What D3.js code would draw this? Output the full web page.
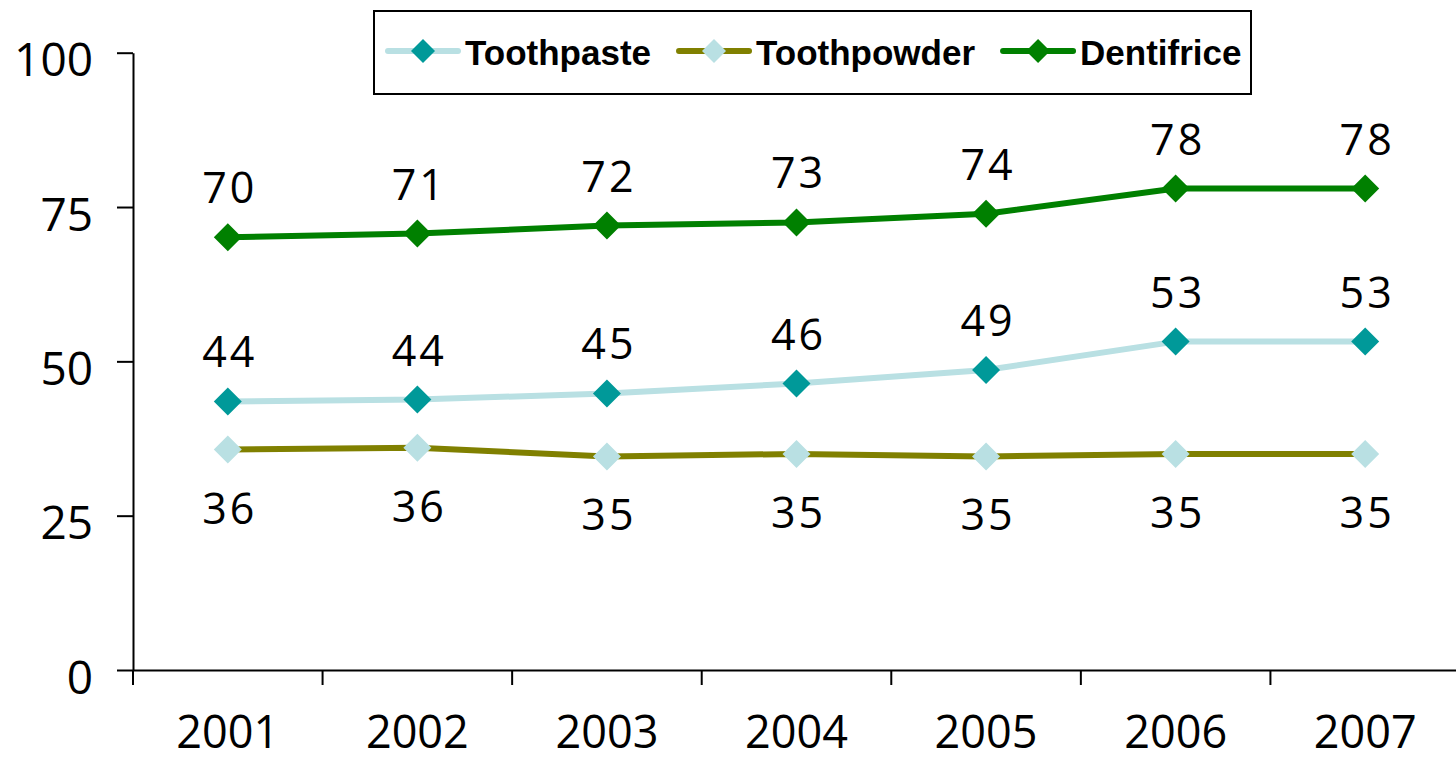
<!DOCTYPE html>
<html>
<head>
<meta charset="utf-8">
<script src="https://cdn.jsdelivr.net/npm/d3@7"></script>
<style>
  html, body { margin: 0; padding: 0; background: #fff; }
  svg { display: block; }
</style>
</head>
<body>
<svg id="chart" width="1456" height="762"></svg>
<script>
// Years on the category axis
const categories = ["2001", "2002", "2003", "2004", "2005", "2006", "2007"];

// Share of households using each product (%)
const toothpaste  = [43.5, 43.8, 44.8, 46.4, 48.6, 53.2, 53.2];
const toothpowder = [35.7, 36.0, 34.6, 35.0, 34.6, 35.0, 35.0];
const dentifrice  = [70.1, 70.7, 72.0, 72.5, 73.9, 78.0, 78.0];

// Value axis ticks
const yTicks = [0, 25, 50, 75, 100];

const series = [
  { name: "Toothpaste",  values: toothpaste,  line: "#b9e0e3", marker: "#009999", above: true },
  { name: "Toothpowder", values: toothpowder, line: "#808000", marker: "#b9e0e3", above: false },
  { name: "Dentifrice",  values: dentifrice,  line: "#008000", marker: "#008000", above: true }
];

const svg = d3.select("#chart");
const numFont = "'Open Sans', 'DejaVu Sans', sans-serif";
const legendFont = "'Liberation Sans', Arial, sans-serif";

const x = d3.scaleBand().domain(categories).range([133, 1460]).padding(0);
const y = d3.scaleLinear().domain([0, 100]).range([670, 52.7]);

// Value axis
const yAxis = svg.append("g")
  .attr("transform", `translate(${x.range()[0]},0)`)
  .call(d3.axisLeft(y).tickValues(yTicks).tickSize(16).tickSizeOuter(0).tickPadding(24));
yAxis.select(".domain").attr("stroke", "#000").attr("stroke-width", 2);
yAxis.selectAll(".tick line").attr("stroke", "#000").attr("stroke-width", 2);
yAxis.selectAll(".tick text")
  .attr("font-family", numFont).attr("font-size", 46).attr("fill", "#000")
  .attr("dy", null).attr("y", 23);

// Category axis: labels centred in each band, ticks on band boundaries
const xAxis = svg.append("g")
  .attr("transform", `translate(0,${y(0)})`)
  .call(d3.axisBottom(x).tickSize(0).tickSizeOuter(0).tickPadding(0));
xAxis.select(".domain").attr("stroke", "#000").attr("stroke-width", 2);
xAxis.selectAll(".tick text")
  .attr("font-family", numFont).attr("font-size", 45).attr("fill", "#000")
  .attr("dy", null).attr("y", 78);

const boundaries = categories.map(c => x(c)).concat([x.range()[1]]);
xAxis.selectAll(".band-tick").data(boundaries).join("line")
  .attr("class", "band-tick")
  .attr("x1", d => d).attr("x2", d => d)
  .attr("y1", 0).attr("y2", 15)
  .attr("stroke", "#000").attr("stroke-width", 2);

// Lines, markers and value labels
const cx = c => x(c) + x.bandwidth() / 2;
const lineGen = d3.line().x(d => cx(d.cat)).y(d => y(d.v));
const diamond = d3.symbol().type(d3.symbolSquare).size(392);

series.forEach(s => {
  const pts = categories.map((c, i) => ({ cat: c, v: s.values[i] }));
  const g = svg.append("g");
  g.append("path").datum(pts)
    .attr("d", lineGen)
    .attr("fill", "none")
    .attr("stroke", s.line)
    .attr("stroke-width", 6)
    .attr("stroke-linejoin", "round");
  g.selectAll(".mk").data(pts).join("path")
    .attr("class", "mk")
    .attr("d", diamond)
    .attr("transform", d => `translate(${cx(d.cat)},${y(d.v)}) rotate(45)`)
    .attr("fill", s.marker);
  g.selectAll(".lbl").data(pts).join("text")
    .attr("class", "lbl")
    .attr("x", d => cx(d.cat) + 2)
    .attr("y", d => y(d.v) + (s.above ? -34 : 74))
    .attr("text-anchor", "middle")
    .attr("font-family", numFont)
    .attr("font-size", 43)
    .attr("letter-spacing", 3)
    .attr("fill", "#000")
    .text(d => Math.round(d.v));
});

// Legend
const legend = svg.append("g");
legend.append("rect")
  .attr("x", 374).attr("y", 11).attr("width", 877).attr("height", 83)
  .attr("fill", "#fff").attr("stroke", "#000").attr("stroke-width", 2);

const legendDiamond = d3.symbol().type(d3.symbolSquare).size(288);
let lx = 388;
const ly = 51;
series.forEach(s => {
  const item = legend.append("g");
  item.append("line")
    .attr("x1", lx).attr("x2", lx + 70).attr("y1", ly).attr("y2", ly)
    .attr("stroke", s.line).attr("stroke-width", 6).attr("stroke-linecap", "round");
  item.append("path")
    .attr("d", legendDiamond)
    .attr("transform", `translate(${lx + 35},${ly}) rotate(45)`)
    .attr("fill", s.marker);
  const t = item.append("text")
    .attr("x", lx + 77).attr("y", ly + 14)
    .attr("font-family", legendFont).attr("font-weight", "bold")
    .attr("font-size", 35).attr("fill", "#000")
    .text(s.name);
  lx = lx + 77 + t.node().getComputedTextLength() + 28;
});
</script>
</body>
</html>
